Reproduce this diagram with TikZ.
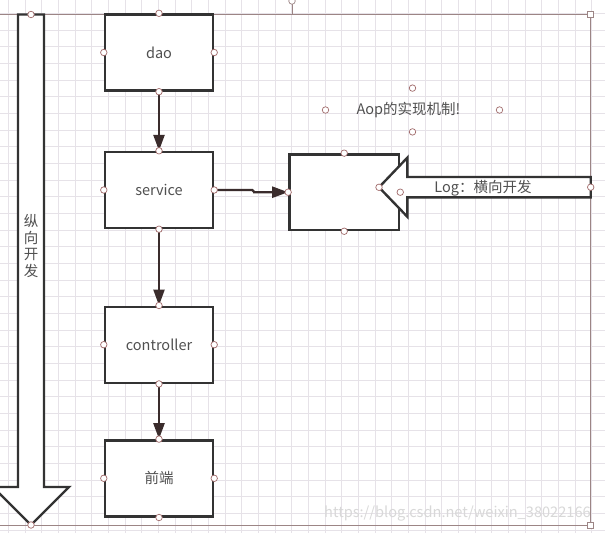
\documentclass[tikz,border=0pt]{standalone}
\usepackage{fontspec}
\setmainfont{Noto Sans CJK SC}
\usetikzlibrary{arrows.meta}
\definecolor{gridc}{HTML}{E6E2E8}
\definecolor{framec}{HTML}{9C8585}
\definecolor{handc}{HTML}{A06A6A}
\definecolor{linec}{HTML}{333333}
\definecolor{arrc}{HTML}{3A2C2C}
\definecolor{txtc}{HTML}{505050}
\definecolor{wmc}{HTML}{D8D8D8}
\begin{document}
\begin{tikzpicture}[x=1pt,y=-1pt,
  box/.style={draw=linec, line width=2.4pt, fill=white, minimum width=108pt, minimum height=76pt, inner sep=0pt, text=txtc, font=\fontsize{14.5}{16}\selectfont},
  handle/.style={circle, draw=handc, fill=white, line width=0.7pt, minimum size=6.5pt, inner sep=0pt},
  sqhandle/.style={rectangle, draw=framec, fill=white, line width=0.7pt, minimum size=6pt, inner sep=0pt},
  conn/.style={draw=arrc, line width=2.4pt, -{Triangle[length=16pt,width=11pt]}},
  blockarrow/.style={draw=linec, line width=2.4pt, fill=white, line join=miter},
  lbl/.style={text=txtc, font=\fontsize{14.5}{16}\selectfont, inner sep=0pt}]
\useasboundingbox (0,0) rectangle (605,533);
\clip (0,0) rectangle (605,533);
\fill[white] (0,0) rectangle (605,533);
% grid
\foreach \i in {0,...,36} \draw[gridc, line width=0.6pt] ({8.33+16.667*\i},0) -- ({8.33+16.667*\i},533);
\foreach \i in {0,...,32} \draw[gridc, line width=0.6pt] (0,{13.33+16.667*\i}) -- (605,{13.33+16.667*\i});
% frame
\draw[framec, line width=0.8pt] (0,14.3) -- (590.5,14.3) -- (590.5,525) -- (0,525);
\coordinate (stemtop) at (292,1);
\coordinate (stembot) at (292,14.3);
\draw[framec, line width=0.8pt] (stemtop) -- (stembot);
\node[handle, draw=framec] (hstem) at (stemtop) {};
\node[sqhandle] (sq1) at (590.5,14.3) {};
\node[sqhandle] (sq2) at (590.5,525) {};
% watermark
\node[text=wmc, font=\fontsize{14.6}{17}\selectfont, anchor=west, inner sep=0pt] (wm) at (324,514) {https://blog.csdn.net/weixin\_38022166};
% vertical block arrow
\draw[blockarrow] (18,14.5) -- (44,14.5) -- (44,487) -- (69,487) -- (31,525) -- (-7,487) -- (18,487) -- cycle;
\node[lbl, align=center, font=\fontsize{14.5}{16.6}\selectfont] (vtxt) at (31,246) {纵\\向\\开\\发};
% boxes
\node[box] (dao) at (159,52.5) {dao};
\node[box] (service) at (159,190) {service};
\node[box] (controller) at (159,344.7) {controller};
\node[box] (fe) at (159,478.3) {前端};
\node[box, minimum width=109.7pt, minimum height=75.7pt] (aop) at (344.2,192.2) {};
% connectors
\draw[conn] (dao.south) -- (service.north);
\draw[conn] (service.south) -- (controller.north);
\draw[conn] (controller.south) -- (fe.north);
\draw[conn] (service.east) -- ++(38,0) -- ++(2,2) |- (aop.west);
% horizontal block arrow
\draw[blockarrow] (590.7,177) -- (407.3,177) -- (407.3,157.7) -- (379,187.3) -- (407.3,216.7) -- (407.3,197.3) -- (590.7,197.3) -- cycle;
\node[lbl] (logtxt) at (483,188) {Log：横向开发};
% Aop text
\node[lbl, minimum width=173.6pt, minimum height=43.4pt] (aoptxt) at (412.5,110) {\hspace*{-8pt}Aop的实现机制!};
% handles
\foreach \n in {dao,service,controller,fe,aop}
  \foreach \a in {north,south,east,west}
    \node[handle] (h-\n-\a) at (\n.\a) {};
\foreach \a in {north,south,east,west}
  \node[handle] (h-aoptxt-\a) at (aoptxt.\a) {};
\node[handle] (h-v1) at (31,14.5) {};
\node[handle] (h-v2) at (31,525) {};
\node[handle] (h-l1) at (590.7,187.2) {};
\node[handle] (h-l2) at (379,187.3) {};
\end{tikzpicture}
\end{document}
